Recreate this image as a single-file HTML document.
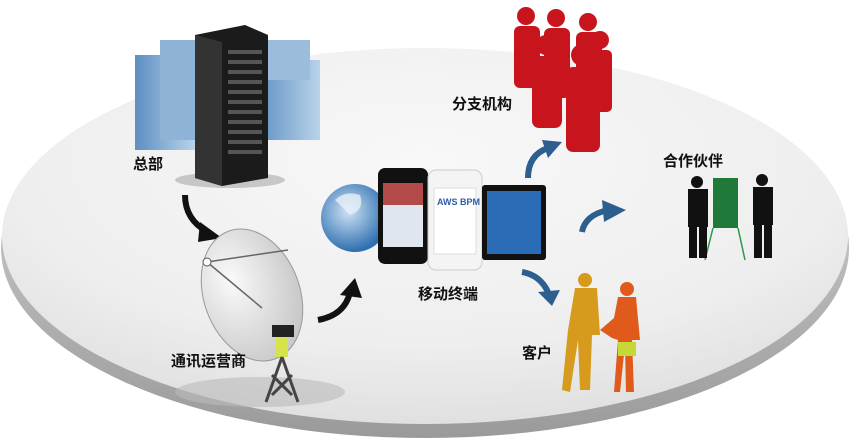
<!DOCTYPE html>
<html><head><meta charset="utf-8"><style>
html,body{margin:0;padding:0;background:#fff;}
svg{display:block}
text{font-family:"Liberation Sans","Noto Sans CJK SC",sans-serif;font-size:15px;fill:#111;font-weight:bold}
</style></head><body>
<svg width="850" height="444" viewBox="0 0 850 444" xmlns="http://www.w3.org/2000/svg">
<defs>
<radialGradient id="top" cx="0.5" cy="0.3" r="0.7">
<stop offset="0" stop-color="#f8f8f8"/><stop offset="0.7" stop-color="#eeeeee"/><stop offset="1" stop-color="#e0e0e0"/></radialGradient>
<linearGradient id="rim" x1="0" y1="0" x2="0" y2="1">
<stop offset="0" stop-color="#e0e0e0"/><stop offset="1" stop-color="#9a9a9a"/></linearGradient>
<radialGradient id="globe" cx="0.4" cy="0.4" r="0.6"><stop offset="0" stop-color="#cfe3f5"/><stop offset="1" stop-color="#2e6fb0"/></radialGradient>
<linearGradient id="bld" x1="0" y1="0" x2="1" y2="0"><stop offset="0" stop-color="#5d8fc2"/><stop offset="1" stop-color="#b9d3ea"/></linearGradient>
<radialGradient id="dish" cx="0.35" cy="0.35" r="0.7"><stop offset="0" stop-color="#fafafa"/><stop offset="1" stop-color="#c8c8c8"/></radialGradient>
</defs>
<ellipse cx="425" cy="248" rx="424" ry="190" fill="url(#rim)"/>
<ellipse cx="425" cy="236" rx="423" ry="188" fill="url(#top)"/>
<!-- HQ -->
<rect x="135" y="55" width="60" height="95" fill="url(#bld)"/>
<rect x="160" y="40" width="40" height="100" fill="#8fb3d6"/>
<rect x="255" y="60" width="65" height="80" fill="url(#bld)"/>
<rect x="265" y="40" width="45" height="40" fill="#9cbcdc"/>
<ellipse cx="230" cy="180" rx="55" ry="8" fill="#999" opacity="0.5"/>
<polygon points="195,35 245,25 268,35 268,178 222,186 195,178" fill="#1b1b1b"/>
<polygon points="195,35 222,42 222,186 195,178" fill="#333"/>
<g fill="#555"><rect x="228" y="50" width="34" height="4"/><rect x="228" y="60" width="34" height="4"/><rect x="228" y="70" width="34" height="4"/><rect x="228" y="80" width="34" height="4"/><rect x="228" y="90" width="34" height="4"/><rect x="228" y="100" width="34" height="4"/><rect x="228" y="110" width="34" height="4"/><rect x="228" y="120" width="34" height="4"/><rect x="228" y="130" width="34" height="4"/><rect x="228" y="140" width="34" height="4"/><rect x="228" y="150" width="34" height="4"/></g>
<text x="133" y="169">总部</text>
<!-- arrows black -->
<path d="M185,195 Q185,220 208,232" stroke="#111" stroke-width="6" fill="none"/>
<polygon points="200,222 222,238 198,242" fill="#111"/>
<path d="M318,320 Q345,315 350,292" stroke="#111" stroke-width="6" fill="none"/>
<polygon points="340,295 355,278 362,298" fill="#111"/>
<!-- dish -->
<ellipse cx="260" cy="392" rx="85" ry="15" fill="#bbb" opacity="0.6"/>
<ellipse cx="252" cy="295" rx="48" ry="68" transform="rotate(-20 252 295)" fill="url(#dish)" stroke="#999"/>
<path d="M207,262 L288,250 M207,262 L262,308" stroke="#666" stroke-width="1.5"/>
<circle cx="207" cy="262" r="4" fill="#fff" stroke="#555"/>
<rect x="272" y="325" width="22" height="12" fill="#222"/>
<rect x="276" y="337" width="12" height="20" fill="#d7e34a"/>
<path d="M282,357 L266,402 M282,357 L298,402 M272,375 L292,395 M292,375 L272,395" stroke="#444" stroke-width="3" fill="none"/>
<text x="171" y="366">通讯运营商</text>
<!-- globe & devices -->
<circle cx="355" cy="218" r="34" fill="url(#globe)"/>
<path d="M335,200 q10,-10 25,-5 q5,15 -10,20 z" fill="#e8f0f8" opacity="0.8"/>
<rect x="378" y="168" width="50" height="96" rx="7" fill="#111"/>
<rect x="383" y="183" width="40" height="64" fill="#b24a4a"/>
<rect x="383" y="205" width="40" height="42" fill="#dfe6ee"/>
<rect x="428" y="170" width="54" height="100" rx="8" fill="#f4f4f4" stroke="#ccc"/>
<rect x="434" y="188" width="42" height="66" fill="#fff" stroke="#ddd"/>
<text x="437" y="205" style="font-size:9px;fill:#2a5ea8">AWS BPM</text>
<rect x="482" y="185" width="64" height="75" rx="3" fill="#111"/>
<rect x="487" y="191" width="54" height="63" fill="#2a6cb5"/>
<text x="418" y="299">移动终端</text>
<!-- blue arrows -->
<g fill="none" stroke="#2c5f8e" stroke-width="6">
<path d="M528,178 Q528,155 548,148"/>
<path d="M582,232 Q585,215 608,210"/>
<path d="M522,272 Q540,275 548,292"/>
</g>
<g fill="#2c5f8e">
<polygon points="542,140 562,142 548,158"/>
<polygon points="602,200 626,210 604,222"/>
<polygon points="538,292 560,290 552,306"/>
</g>
<!-- red people -->
<g fill="#c8141c">
<circle cx="526" cy="16" r="9"/><rect x="514" y="26" width="26" height="62" rx="6"/>
<circle cx="556" cy="18" r="9"/><rect x="544" y="28" width="26" height="70" rx="6"/>
<circle cx="588" cy="22" r="9"/><rect x="576" y="32" width="26" height="70" rx="6"/>
<circle cx="546" cy="45" r="10"/><rect x="532" y="56" width="30" height="72" rx="7"/>
<circle cx="582" cy="55" r="11"/><rect x="566" y="67" width="34" height="85" rx="7"/>
<circle cx="600" cy="40" r="9"/><rect x="590" y="50" width="22" height="62" rx="5"/>
</g>
<text x="452" y="109">分支机构</text>
<!-- partners -->
<text x="663" y="166">合作伙伴</text>
<rect x="713" y="178" width="25" height="50" fill="#1f7a3a"/>
<path d="M713,228 L705,260 M738,228 L745,260" stroke="#2a9a4a" stroke-width="1.5"/>
<g fill="#111">
<circle cx="697" cy="182" r="6"/><rect x="688" y="189" width="20" height="38"/><rect x="689" y="225" width="8" height="33"/><rect x="699" y="225" width="8" height="33"/>
<circle cx="762" cy="180" r="6"/><rect x="753" y="187" width="20" height="38"/><rect x="754" y="223" width="8" height="35"/><rect x="764" y="223" width="8" height="35"/>
</g>
<!-- customers -->
<g fill="#d69a1c">
<circle cx="585" cy="280" r="7"/><path d="M575,288 L597,288 L600,335 L592,335 L590,390 L580,390 L578,340 L570,392 L562,390 L568,330 Z"/>
</g>
<g fill="#e05a1c">
<circle cx="627" cy="289" r="7"/><path d="M618,297 L636,297 L640,340 L632,340 L634,392 L626,392 L625,345 L620,392 L614,392 L618,340 L612,338 L600,330 L614,318 Z"/>
</g>
<rect x="618" y="342" width="18" height="14" fill="#c6d838"/>
<text x="522" y="358">客户</text>
</svg>
</body></html>
